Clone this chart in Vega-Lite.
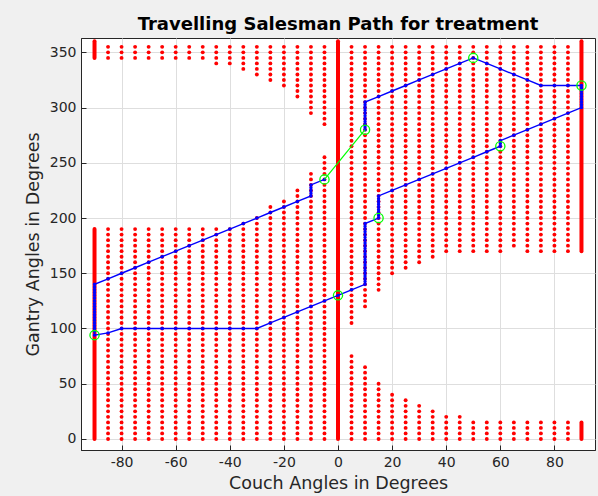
{
"$schema": "https://vega.github.io/schema/vega-lite/v6.json",
"width": 514, "height": 412,
"autosize": {"type": "none"},
"padding": {"left": 81, "top": 38, "right": 3, "bottom": 46},
"background": "#f0f0f0",
"config": {
 "font": "DejaVu Sans",
 "view": {"fill": "#ffffff", "stroke": "#262626", "strokeWidth": 1},
 "axis": {"domainColor": "#262626", "tickColor": "#262626", "labelColor": "#262626", "titleColor": "#262626", "gridColor": "#dedede", "gridWidth": 1, "labelFontSize": 14, "titleFontSize": 17.5, "titleFontWeight": "normal", "labelFont": "DejaVu Sans", "titleFont": "DejaVu Sans", "tickSize": -5, "labelPadding": 10, "labelExpr": "toString(datum.value)"}
},
"title": {"text": "Travelling Salesman Path for treatment", "fontSize": 18, "fontWeight": "bold", "font": "DejaVu Sans", "color": "#000000", "anchor": "middle", "frame": "group", "offset": 7, "baseline": "alphabetic", "dy": 17},
"datasets": {
"grid": [
{"c":-85,"g":0},{"c":-85,"g":5},{"c":-85,"g":10},{"c":-85,"g":15},{"c":-85,"g":20},{"c":-85,"g":25},{"c":-85,"g":30},{"c":-85,"g":35},{"c":-85,"g":40},{"c":-85,"g":45},{"c":-85,"g":50},{"c":-85,"g":55},{"c":-85,"g":60},{"c":-85,"g":65},{"c":-85,"g":70},{"c":-85,"g":75},{"c":-85,"g":80},{"c":-85,"g":85},{"c":-85,"g":90},{"c":-85,"g":95},{"c":-85,"g":100},{"c":-85,"g":105},{"c":-85,"g":110},{"c":-85,"g":115},{"c":-85,"g":120},{"c":-85,"g":125},{"c":-85,"g":130},{"c":-85,"g":135},{"c":-85,"g":140},{"c":-85,"g":145},{"c":-85,"g":150},{"c":-85,"g":155},{"c":-85,"g":160},{"c":-85,"g":165},{"c":-85,"g":170},{"c":-85,"g":175},{"c":-85,"g":180},{"c":-85,"g":185},{"c":-85,"g":190},{"c":-85,"g":345},{"c":-85,"g":350},{"c":-85,"g":355},
{"c":-80,"g":0},{"c":-80,"g":5},{"c":-80,"g":10},{"c":-80,"g":15},{"c":-80,"g":20},{"c":-80,"g":25},{"c":-80,"g":30},{"c":-80,"g":35},{"c":-80,"g":40},{"c":-80,"g":45},{"c":-80,"g":50},{"c":-80,"g":55},{"c":-80,"g":60},{"c":-80,"g":65},{"c":-80,"g":70},{"c":-80,"g":75},{"c":-80,"g":80},{"c":-80,"g":85},{"c":-80,"g":90},{"c":-80,"g":95},{"c":-80,"g":100},{"c":-80,"g":105},{"c":-80,"g":110},{"c":-80,"g":115},{"c":-80,"g":120},{"c":-80,"g":125},{"c":-80,"g":130},{"c":-80,"g":135},{"c":-80,"g":140},{"c":-80,"g":145},{"c":-80,"g":150},{"c":-80,"g":155},{"c":-80,"g":160},{"c":-80,"g":165},{"c":-80,"g":170},{"c":-80,"g":175},{"c":-80,"g":180},{"c":-80,"g":185},{"c":-80,"g":190},{"c":-80,"g":345},{"c":-80,"g":350},{"c":-80,"g":355},
{"c":-75,"g":0},{"c":-75,"g":5},{"c":-75,"g":10},{"c":-75,"g":15},{"c":-75,"g":20},{"c":-75,"g":25},{"c":-75,"g":30},{"c":-75,"g":35},{"c":-75,"g":40},{"c":-75,"g":45},{"c":-75,"g":50},{"c":-75,"g":55},{"c":-75,"g":60},{"c":-75,"g":65},{"c":-75,"g":70},{"c":-75,"g":75},{"c":-75,"g":80},{"c":-75,"g":85},{"c":-75,"g":90},{"c":-75,"g":95},{"c":-75,"g":100},{"c":-75,"g":105},{"c":-75,"g":110},{"c":-75,"g":115},{"c":-75,"g":120},{"c":-75,"g":125},{"c":-75,"g":130},{"c":-75,"g":135},{"c":-75,"g":140},{"c":-75,"g":145},{"c":-75,"g":150},{"c":-75,"g":155},{"c":-75,"g":160},{"c":-75,"g":165},{"c":-75,"g":170},{"c":-75,"g":175},{"c":-75,"g":180},{"c":-75,"g":185},{"c":-75,"g":190},{"c":-75,"g":345},{"c":-75,"g":350},{"c":-75,"g":355},
{"c":-70,"g":0},{"c":-70,"g":5},{"c":-70,"g":10},{"c":-70,"g":15},{"c":-70,"g":20},{"c":-70,"g":25},{"c":-70,"g":30},{"c":-70,"g":35},{"c":-70,"g":40},{"c":-70,"g":45},{"c":-70,"g":50},{"c":-70,"g":55},{"c":-70,"g":60},{"c":-70,"g":65},{"c":-70,"g":70},{"c":-70,"g":75},{"c":-70,"g":80},{"c":-70,"g":85},{"c":-70,"g":90},{"c":-70,"g":95},{"c":-70,"g":100},{"c":-70,"g":105},{"c":-70,"g":110},{"c":-70,"g":115},{"c":-70,"g":120},{"c":-70,"g":125},{"c":-70,"g":130},{"c":-70,"g":135},{"c":-70,"g":140},{"c":-70,"g":145},{"c":-70,"g":150},{"c":-70,"g":155},{"c":-70,"g":160},{"c":-70,"g":165},{"c":-70,"g":170},{"c":-70,"g":175},{"c":-70,"g":180},{"c":-70,"g":185},{"c":-70,"g":190},{"c":-70,"g":345},{"c":-70,"g":350},{"c":-70,"g":355},
{"c":-65,"g":0},{"c":-65,"g":5},{"c":-65,"g":10},{"c":-65,"g":15},{"c":-65,"g":20},{"c":-65,"g":25},{"c":-65,"g":30},{"c":-65,"g":35},{"c":-65,"g":40},{"c":-65,"g":45},{"c":-65,"g":50},{"c":-65,"g":55},{"c":-65,"g":60},{"c":-65,"g":65},{"c":-65,"g":70},{"c":-65,"g":75},{"c":-65,"g":80},{"c":-65,"g":85},{"c":-65,"g":90},{"c":-65,"g":95},{"c":-65,"g":100},{"c":-65,"g":105},{"c":-65,"g":110},{"c":-65,"g":115},{"c":-65,"g":120},{"c":-65,"g":125},{"c":-65,"g":130},{"c":-65,"g":135},{"c":-65,"g":140},{"c":-65,"g":145},{"c":-65,"g":150},{"c":-65,"g":155},{"c":-65,"g":160},{"c":-65,"g":165},{"c":-65,"g":170},{"c":-65,"g":175},{"c":-65,"g":180},{"c":-65,"g":185},{"c":-65,"g":190},{"c":-65,"g":345},{"c":-65,"g":350},{"c":-65,"g":355},
{"c":-60,"g":0},{"c":-60,"g":5},{"c":-60,"g":10},{"c":-60,"g":15},{"c":-60,"g":20},{"c":-60,"g":25},{"c":-60,"g":30},{"c":-60,"g":35},{"c":-60,"g":40},{"c":-60,"g":45},{"c":-60,"g":50},{"c":-60,"g":55},{"c":-60,"g":60},{"c":-60,"g":65},{"c":-60,"g":70},{"c":-60,"g":75},{"c":-60,"g":80},{"c":-60,"g":85},{"c":-60,"g":90},{"c":-60,"g":95},{"c":-60,"g":100},{"c":-60,"g":105},{"c":-60,"g":110},{"c":-60,"g":115},{"c":-60,"g":120},{"c":-60,"g":125},{"c":-60,"g":130},{"c":-60,"g":135},{"c":-60,"g":140},{"c":-60,"g":145},{"c":-60,"g":150},{"c":-60,"g":155},{"c":-60,"g":160},{"c":-60,"g":165},{"c":-60,"g":170},{"c":-60,"g":175},{"c":-60,"g":180},{"c":-60,"g":185},{"c":-60,"g":190},{"c":-60,"g":345},{"c":-60,"g":350},{"c":-60,"g":355},
{"c":-55,"g":0},{"c":-55,"g":5},{"c":-55,"g":10},{"c":-55,"g":15},{"c":-55,"g":20},{"c":-55,"g":25},{"c":-55,"g":30},{"c":-55,"g":35},{"c":-55,"g":40},{"c":-55,"g":45},{"c":-55,"g":50},{"c":-55,"g":55},{"c":-55,"g":60},{"c":-55,"g":65},{"c":-55,"g":70},{"c":-55,"g":75},{"c":-55,"g":80},{"c":-55,"g":85},{"c":-55,"g":90},{"c":-55,"g":95},{"c":-55,"g":100},{"c":-55,"g":105},{"c":-55,"g":110},{"c":-55,"g":115},{"c":-55,"g":120},{"c":-55,"g":125},{"c":-55,"g":130},{"c":-55,"g":135},{"c":-55,"g":140},{"c":-55,"g":145},{"c":-55,"g":150},{"c":-55,"g":155},{"c":-55,"g":160},{"c":-55,"g":165},{"c":-55,"g":170},{"c":-55,"g":175},{"c":-55,"g":180},{"c":-55,"g":185},{"c":-55,"g":190},{"c":-55,"g":345},{"c":-55,"g":350},{"c":-55,"g":355},
{"c":-50,"g":0},{"c":-50,"g":5},{"c":-50,"g":10},{"c":-50,"g":15},{"c":-50,"g":20},{"c":-50,"g":25},{"c":-50,"g":30},{"c":-50,"g":35},{"c":-50,"g":40},{"c":-50,"g":45},{"c":-50,"g":50},{"c":-50,"g":55},{"c":-50,"g":60},{"c":-50,"g":65},{"c":-50,"g":70},{"c":-50,"g":75},{"c":-50,"g":80},{"c":-50,"g":85},{"c":-50,"g":90},{"c":-50,"g":95},{"c":-50,"g":100},{"c":-50,"g":105},{"c":-50,"g":110},{"c":-50,"g":115},{"c":-50,"g":120},{"c":-50,"g":125},{"c":-50,"g":130},{"c":-50,"g":135},{"c":-50,"g":140},{"c":-50,"g":145},{"c":-50,"g":150},{"c":-50,"g":155},{"c":-50,"g":160},{"c":-50,"g":165},{"c":-50,"g":170},{"c":-50,"g":175},{"c":-50,"g":180},{"c":-50,"g":185},{"c":-50,"g":190},{"c":-50,"g":345},{"c":-50,"g":350},{"c":-50,"g":355},
{"c":-45,"g":0},{"c":-45,"g":5},{"c":-45,"g":10},{"c":-45,"g":15},{"c":-45,"g":20},{"c":-45,"g":25},{"c":-45,"g":30},{"c":-45,"g":35},{"c":-45,"g":40},{"c":-45,"g":45},{"c":-45,"g":50},{"c":-45,"g":55},{"c":-45,"g":60},{"c":-45,"g":65},{"c":-45,"g":70},{"c":-45,"g":75},{"c":-45,"g":80},{"c":-45,"g":85},{"c":-45,"g":90},{"c":-45,"g":95},{"c":-45,"g":100},{"c":-45,"g":105},{"c":-45,"g":110},{"c":-45,"g":115},{"c":-45,"g":120},{"c":-45,"g":125},{"c":-45,"g":130},{"c":-45,"g":135},{"c":-45,"g":140},{"c":-45,"g":145},{"c":-45,"g":150},{"c":-45,"g":155},{"c":-45,"g":160},{"c":-45,"g":165},{"c":-45,"g":170},{"c":-45,"g":175},{"c":-45,"g":180},{"c":-45,"g":185},{"c":-45,"g":190},{"c":-45,"g":340},{"c":-45,"g":345},{"c":-45,"g":350},{"c":-45,"g":355},
{"c":-40,"g":0},{"c":-40,"g":5},{"c":-40,"g":10},{"c":-40,"g":15},{"c":-40,"g":20},{"c":-40,"g":25},{"c":-40,"g":30},{"c":-40,"g":35},{"c":-40,"g":40},{"c":-40,"g":45},{"c":-40,"g":50},{"c":-40,"g":55},{"c":-40,"g":60},{"c":-40,"g":65},{"c":-40,"g":70},{"c":-40,"g":75},{"c":-40,"g":80},{"c":-40,"g":85},{"c":-40,"g":90},{"c":-40,"g":95},{"c":-40,"g":100},{"c":-40,"g":105},{"c":-40,"g":110},{"c":-40,"g":115},{"c":-40,"g":120},{"c":-40,"g":125},{"c":-40,"g":130},{"c":-40,"g":135},{"c":-40,"g":140},{"c":-40,"g":145},{"c":-40,"g":150},{"c":-40,"g":155},{"c":-40,"g":160},{"c":-40,"g":165},{"c":-40,"g":170},{"c":-40,"g":175},{"c":-40,"g":180},{"c":-40,"g":185},{"c":-40,"g":190},{"c":-40,"g":340},{"c":-40,"g":345},{"c":-40,"g":350},{"c":-40,"g":355},
{"c":-35,"g":0},{"c":-35,"g":5},{"c":-35,"g":10},{"c":-35,"g":15},{"c":-35,"g":20},{"c":-35,"g":25},{"c":-35,"g":30},{"c":-35,"g":35},{"c":-35,"g":40},{"c":-35,"g":45},{"c":-35,"g":50},{"c":-35,"g":55},{"c":-35,"g":60},{"c":-35,"g":65},{"c":-35,"g":70},{"c":-35,"g":75},{"c":-35,"g":80},{"c":-35,"g":85},{"c":-35,"g":90},{"c":-35,"g":95},{"c":-35,"g":100},{"c":-35,"g":105},{"c":-35,"g":110},{"c":-35,"g":115},{"c":-35,"g":120},{"c":-35,"g":125},{"c":-35,"g":130},{"c":-35,"g":135},{"c":-35,"g":140},{"c":-35,"g":145},{"c":-35,"g":150},{"c":-35,"g":155},{"c":-35,"g":160},{"c":-35,"g":165},{"c":-35,"g":170},{"c":-35,"g":175},{"c":-35,"g":180},{"c":-35,"g":185},{"c":-35,"g":190},{"c":-35,"g":195},{"c":-35,"g":335},{"c":-35,"g":340},{"c":-35,"g":345},{"c":-35,"g":350},{"c":-35,"g":355},
{"c":-30,"g":0},{"c":-30,"g":5},{"c":-30,"g":10},{"c":-30,"g":15},{"c":-30,"g":20},{"c":-30,"g":25},{"c":-30,"g":30},{"c":-30,"g":35},{"c":-30,"g":40},{"c":-30,"g":45},{"c":-30,"g":50},{"c":-30,"g":55},{"c":-30,"g":60},{"c":-30,"g":65},{"c":-30,"g":70},{"c":-30,"g":75},{"c":-30,"g":80},{"c":-30,"g":85},{"c":-30,"g":90},{"c":-30,"g":95},{"c":-30,"g":100},{"c":-30,"g":105},{"c":-30,"g":110},{"c":-30,"g":115},{"c":-30,"g":120},{"c":-30,"g":125},{"c":-30,"g":130},{"c":-30,"g":135},{"c":-30,"g":140},{"c":-30,"g":145},{"c":-30,"g":150},{"c":-30,"g":155},{"c":-30,"g":160},{"c":-30,"g":165},{"c":-30,"g":170},{"c":-30,"g":175},{"c":-30,"g":180},{"c":-30,"g":185},{"c":-30,"g":190},{"c":-30,"g":195},{"c":-30,"g":200},{"c":-30,"g":330},{"c":-30,"g":335},{"c":-30,"g":340},{"c":-30,"g":345},{"c":-30,"g":350},{"c":-30,"g":355},
{"c":-25,"g":0},{"c":-25,"g":5},{"c":-25,"g":10},{"c":-25,"g":15},{"c":-25,"g":20},{"c":-25,"g":25},{"c":-25,"g":30},{"c":-25,"g":35},{"c":-25,"g":40},{"c":-25,"g":45},{"c":-25,"g":50},{"c":-25,"g":55},{"c":-25,"g":60},{"c":-25,"g":65},{"c":-25,"g":70},{"c":-25,"g":75},{"c":-25,"g":80},{"c":-25,"g":85},{"c":-25,"g":90},{"c":-25,"g":95},{"c":-25,"g":100},{"c":-25,"g":105},{"c":-25,"g":110},{"c":-25,"g":115},{"c":-25,"g":120},{"c":-25,"g":125},{"c":-25,"g":130},{"c":-25,"g":135},{"c":-25,"g":140},{"c":-25,"g":145},{"c":-25,"g":150},{"c":-25,"g":155},{"c":-25,"g":160},{"c":-25,"g":165},{"c":-25,"g":170},{"c":-25,"g":175},{"c":-25,"g":180},{"c":-25,"g":185},{"c":-25,"g":190},{"c":-25,"g":195},{"c":-25,"g":200},{"c":-25,"g":205},{"c":-25,"g":210},{"c":-25,"g":325},{"c":-25,"g":330},{"c":-25,"g":335},{"c":-25,"g":340},{"c":-25,"g":345},{"c":-25,"g":350},{"c":-25,"g":355},
{"c":-20,"g":0},{"c":-20,"g":5},{"c":-20,"g":10},{"c":-20,"g":15},{"c":-20,"g":20},{"c":-20,"g":25},{"c":-20,"g":30},{"c":-20,"g":35},{"c":-20,"g":40},{"c":-20,"g":45},{"c":-20,"g":50},{"c":-20,"g":55},{"c":-20,"g":60},{"c":-20,"g":65},{"c":-20,"g":70},{"c":-20,"g":75},{"c":-20,"g":80},{"c":-20,"g":85},{"c":-20,"g":90},{"c":-20,"g":95},{"c":-20,"g":100},{"c":-20,"g":105},{"c":-20,"g":110},{"c":-20,"g":115},{"c":-20,"g":120},{"c":-20,"g":125},{"c":-20,"g":130},{"c":-20,"g":135},{"c":-20,"g":140},{"c":-20,"g":145},{"c":-20,"g":150},{"c":-20,"g":155},{"c":-20,"g":160},{"c":-20,"g":165},{"c":-20,"g":170},{"c":-20,"g":175},{"c":-20,"g":180},{"c":-20,"g":185},{"c":-20,"g":190},{"c":-20,"g":195},{"c":-20,"g":200},{"c":-20,"g":205},{"c":-20,"g":210},{"c":-20,"g":215},{"c":-20,"g":320},{"c":-20,"g":325},{"c":-20,"g":330},{"c":-20,"g":335},{"c":-20,"g":340},{"c":-20,"g":345},{"c":-20,"g":350},{"c":-20,"g":355},
{"c":-15,"g":0},{"c":-15,"g":5},{"c":-15,"g":10},{"c":-15,"g":15},{"c":-15,"g":20},{"c":-15,"g":25},{"c":-15,"g":30},{"c":-15,"g":35},{"c":-15,"g":40},{"c":-15,"g":45},{"c":-15,"g":50},{"c":-15,"g":55},{"c":-15,"g":60},{"c":-15,"g":65},{"c":-15,"g":70},{"c":-15,"g":75},{"c":-15,"g":80},{"c":-15,"g":85},{"c":-15,"g":90},{"c":-15,"g":95},{"c":-15,"g":100},{"c":-15,"g":105},{"c":-15,"g":110},{"c":-15,"g":115},{"c":-15,"g":120},{"c":-15,"g":125},{"c":-15,"g":130},{"c":-15,"g":135},{"c":-15,"g":140},{"c":-15,"g":145},{"c":-15,"g":150},{"c":-15,"g":155},{"c":-15,"g":160},{"c":-15,"g":165},{"c":-15,"g":170},{"c":-15,"g":175},{"c":-15,"g":180},{"c":-15,"g":185},{"c":-15,"g":190},{"c":-15,"g":195},{"c":-15,"g":200},{"c":-15,"g":205},{"c":-15,"g":210},{"c":-15,"g":215},{"c":-15,"g":220},{"c":-15,"g":225},{"c":-15,"g":310},{"c":-15,"g":315},{"c":-15,"g":320},{"c":-15,"g":325},{"c":-15,"g":330},{"c":-15,"g":335},{"c":-15,"g":340},{"c":-15,"g":345},{"c":-15,"g":350},{"c":-15,"g":355},
{"c":-10,"g":0},{"c":-10,"g":5},{"c":-10,"g":10},{"c":-10,"g":15},{"c":-10,"g":20},{"c":-10,"g":25},{"c":-10,"g":30},{"c":-10,"g":35},{"c":-10,"g":40},{"c":-10,"g":45},{"c":-10,"g":50},{"c":-10,"g":55},{"c":-10,"g":60},{"c":-10,"g":65},{"c":-10,"g":70},{"c":-10,"g":75},{"c":-10,"g":80},{"c":-10,"g":85},{"c":-10,"g":90},{"c":-10,"g":95},{"c":-10,"g":100},{"c":-10,"g":105},{"c":-10,"g":110},{"c":-10,"g":115},{"c":-10,"g":120},{"c":-10,"g":125},{"c":-10,"g":130},{"c":-10,"g":135},{"c":-10,"g":140},{"c":-10,"g":145},{"c":-10,"g":150},{"c":-10,"g":155},{"c":-10,"g":160},{"c":-10,"g":165},{"c":-10,"g":170},{"c":-10,"g":175},{"c":-10,"g":180},{"c":-10,"g":185},{"c":-10,"g":190},{"c":-10,"g":195},{"c":-10,"g":200},{"c":-10,"g":205},{"c":-10,"g":210},{"c":-10,"g":215},{"c":-10,"g":220},{"c":-10,"g":225},{"c":-10,"g":230},{"c":-10,"g":235},{"c":-10,"g":240},{"c":-10,"g":295},{"c":-10,"g":300},{"c":-10,"g":305},{"c":-10,"g":310},{"c":-10,"g":315},{"c":-10,"g":320},{"c":-10,"g":325},{"c":-10,"g":330},{"c":-10,"g":335},{"c":-10,"g":340},{"c":-10,"g":345},{"c":-10,"g":350},{"c":-10,"g":355},
{"c":-5,"g":0},{"c":-5,"g":5},{"c":-5,"g":10},{"c":-5,"g":15},{"c":-5,"g":20},{"c":-5,"g":25},{"c":-5,"g":30},{"c":-5,"g":35},{"c":-5,"g":40},{"c":-5,"g":45},{"c":-5,"g":50},{"c":-5,"g":55},{"c":-5,"g":60},{"c":-5,"g":65},{"c":-5,"g":70},{"c":-5,"g":75},{"c":-5,"g":80},{"c":-5,"g":85},{"c":-5,"g":90},{"c":-5,"g":95},{"c":-5,"g":100},{"c":-5,"g":105},{"c":-5,"g":110},{"c":-5,"g":115},{"c":-5,"g":120},{"c":-5,"g":125},{"c":-5,"g":130},{"c":-5,"g":135},{"c":-5,"g":140},{"c":-5,"g":145},{"c":-5,"g":150},{"c":-5,"g":155},{"c":-5,"g":160},{"c":-5,"g":165},{"c":-5,"g":170},{"c":-5,"g":175},{"c":-5,"g":180},{"c":-5,"g":185},{"c":-5,"g":190},{"c":-5,"g":195},{"c":-5,"g":200},{"c":-5,"g":205},{"c":-5,"g":210},{"c":-5,"g":215},{"c":-5,"g":220},{"c":-5,"g":225},{"c":-5,"g":230},{"c":-5,"g":235},{"c":-5,"g":240},{"c":-5,"g":245},{"c":-5,"g":250},{"c":-5,"g":255},{"c":-5,"g":285},{"c":-5,"g":290},{"c":-5,"g":295},{"c":-5,"g":300},{"c":-5,"g":305},{"c":-5,"g":310},{"c":-5,"g":315},{"c":-5,"g":320},{"c":-5,"g":325},{"c":-5,"g":330},{"c":-5,"g":335},{"c":-5,"g":340},{"c":-5,"g":345},{"c":-5,"g":350},{"c":-5,"g":355},
{"c":5,"g":0},{"c":5,"g":5},{"c":5,"g":10},{"c":5,"g":15},{"c":5,"g":20},{"c":5,"g":25},{"c":5,"g":30},{"c":5,"g":35},{"c":5,"g":40},{"c":5,"g":45},{"c":5,"g":50},{"c":5,"g":55},{"c":5,"g":60},{"c":5,"g":65},{"c":5,"g":70},{"c":5,"g":75},{"c":5,"g":105},{"c":5,"g":110},{"c":5,"g":115},{"c":5,"g":120},{"c":5,"g":125},{"c":5,"g":130},{"c":5,"g":135},{"c":5,"g":140},{"c":5,"g":145},{"c":5,"g":150},{"c":5,"g":155},{"c":5,"g":160},{"c":5,"g":165},{"c":5,"g":170},{"c":5,"g":175},{"c":5,"g":180},{"c":5,"g":185},{"c":5,"g":190},{"c":5,"g":195},{"c":5,"g":200},{"c":5,"g":205},{"c":5,"g":210},{"c":5,"g":215},{"c":5,"g":220},{"c":5,"g":225},{"c":5,"g":230},{"c":5,"g":235},{"c":5,"g":240},{"c":5,"g":245},{"c":5,"g":250},{"c":5,"g":255},{"c":5,"g":260},{"c":5,"g":265},{"c":5,"g":270},{"c":5,"g":275},{"c":5,"g":280},{"c":5,"g":285},{"c":5,"g":290},{"c":5,"g":295},{"c":5,"g":300},{"c":5,"g":305},{"c":5,"g":310},{"c":5,"g":315},{"c":5,"g":320},{"c":5,"g":325},{"c":5,"g":330},{"c":5,"g":335},{"c":5,"g":340},{"c":5,"g":345},{"c":5,"g":350},{"c":5,"g":355},
{"c":10,"g":0},{"c":10,"g":5},{"c":10,"g":10},{"c":10,"g":15},{"c":10,"g":20},{"c":10,"g":25},{"c":10,"g":30},{"c":10,"g":35},{"c":10,"g":40},{"c":10,"g":45},{"c":10,"g":50},{"c":10,"g":55},{"c":10,"g":60},{"c":10,"g":65},{"c":10,"g":120},{"c":10,"g":125},{"c":10,"g":130},{"c":10,"g":135},{"c":10,"g":140},{"c":10,"g":145},{"c":10,"g":150},{"c":10,"g":155},{"c":10,"g":160},{"c":10,"g":165},{"c":10,"g":170},{"c":10,"g":175},{"c":10,"g":180},{"c":10,"g":185},{"c":10,"g":190},{"c":10,"g":195},{"c":10,"g":200},{"c":10,"g":205},{"c":10,"g":210},{"c":10,"g":215},{"c":10,"g":220},{"c":10,"g":225},{"c":10,"g":230},{"c":10,"g":235},{"c":10,"g":240},{"c":10,"g":245},{"c":10,"g":250},{"c":10,"g":255},{"c":10,"g":260},{"c":10,"g":265},{"c":10,"g":270},{"c":10,"g":275},{"c":10,"g":280},{"c":10,"g":285},{"c":10,"g":290},{"c":10,"g":295},{"c":10,"g":300},{"c":10,"g":305},{"c":10,"g":310},{"c":10,"g":315},{"c":10,"g":320},{"c":10,"g":325},{"c":10,"g":330},{"c":10,"g":335},{"c":10,"g":340},{"c":10,"g":345},{"c":10,"g":350},{"c":10,"g":355},
{"c":15,"g":0},{"c":15,"g":5},{"c":15,"g":10},{"c":15,"g":15},{"c":15,"g":20},{"c":15,"g":25},{"c":15,"g":30},{"c":15,"g":35},{"c":15,"g":40},{"c":15,"g":45},{"c":15,"g":50},{"c":15,"g":135},{"c":15,"g":140},{"c":15,"g":145},{"c":15,"g":150},{"c":15,"g":155},{"c":15,"g":160},{"c":15,"g":165},{"c":15,"g":170},{"c":15,"g":175},{"c":15,"g":180},{"c":15,"g":185},{"c":15,"g":190},{"c":15,"g":195},{"c":15,"g":200},{"c":15,"g":205},{"c":15,"g":210},{"c":15,"g":215},{"c":15,"g":220},{"c":15,"g":225},{"c":15,"g":230},{"c":15,"g":235},{"c":15,"g":240},{"c":15,"g":245},{"c":15,"g":250},{"c":15,"g":255},{"c":15,"g":260},{"c":15,"g":265},{"c":15,"g":270},{"c":15,"g":275},{"c":15,"g":280},{"c":15,"g":285},{"c":15,"g":290},{"c":15,"g":295},{"c":15,"g":300},{"c":15,"g":305},{"c":15,"g":310},{"c":15,"g":315},{"c":15,"g":320},{"c":15,"g":325},{"c":15,"g":330},{"c":15,"g":335},{"c":15,"g":340},{"c":15,"g":345},{"c":15,"g":350},{"c":15,"g":355},
{"c":20,"g":0},{"c":20,"g":5},{"c":20,"g":10},{"c":20,"g":15},{"c":20,"g":20},{"c":20,"g":25},{"c":20,"g":30},{"c":20,"g":35},{"c":20,"g":40},{"c":20,"g":150},{"c":20,"g":155},{"c":20,"g":160},{"c":20,"g":165},{"c":20,"g":170},{"c":20,"g":175},{"c":20,"g":180},{"c":20,"g":185},{"c":20,"g":190},{"c":20,"g":195},{"c":20,"g":200},{"c":20,"g":205},{"c":20,"g":210},{"c":20,"g":215},{"c":20,"g":220},{"c":20,"g":225},{"c":20,"g":230},{"c":20,"g":235},{"c":20,"g":240},{"c":20,"g":245},{"c":20,"g":250},{"c":20,"g":255},{"c":20,"g":260},{"c":20,"g":265},{"c":20,"g":270},{"c":20,"g":275},{"c":20,"g":280},{"c":20,"g":285},{"c":20,"g":290},{"c":20,"g":295},{"c":20,"g":300},{"c":20,"g":305},{"c":20,"g":310},{"c":20,"g":315},{"c":20,"g":320},{"c":20,"g":325},{"c":20,"g":330},{"c":20,"g":335},{"c":20,"g":340},{"c":20,"g":345},{"c":20,"g":350},{"c":20,"g":355},
{"c":25,"g":0},{"c":25,"g":5},{"c":25,"g":10},{"c":25,"g":15},{"c":25,"g":20},{"c":25,"g":25},{"c":25,"g":30},{"c":25,"g":35},{"c":25,"g":155},{"c":25,"g":160},{"c":25,"g":165},{"c":25,"g":170},{"c":25,"g":175},{"c":25,"g":180},{"c":25,"g":185},{"c":25,"g":190},{"c":25,"g":195},{"c":25,"g":200},{"c":25,"g":205},{"c":25,"g":210},{"c":25,"g":215},{"c":25,"g":220},{"c":25,"g":225},{"c":25,"g":230},{"c":25,"g":235},{"c":25,"g":240},{"c":25,"g":245},{"c":25,"g":250},{"c":25,"g":255},{"c":25,"g":260},{"c":25,"g":265},{"c":25,"g":270},{"c":25,"g":275},{"c":25,"g":280},{"c":25,"g":285},{"c":25,"g":290},{"c":25,"g":295},{"c":25,"g":300},{"c":25,"g":305},{"c":25,"g":310},{"c":25,"g":315},{"c":25,"g":320},{"c":25,"g":325},{"c":25,"g":330},{"c":25,"g":335},{"c":25,"g":340},{"c":25,"g":345},{"c":25,"g":350},{"c":25,"g":355},
{"c":30,"g":0},{"c":30,"g":5},{"c":30,"g":10},{"c":30,"g":15},{"c":30,"g":20},{"c":30,"g":25},{"c":30,"g":30},{"c":30,"g":160},{"c":30,"g":165},{"c":30,"g":170},{"c":30,"g":175},{"c":30,"g":180},{"c":30,"g":185},{"c":30,"g":190},{"c":30,"g":195},{"c":30,"g":200},{"c":30,"g":205},{"c":30,"g":210},{"c":30,"g":215},{"c":30,"g":220},{"c":30,"g":225},{"c":30,"g":230},{"c":30,"g":235},{"c":30,"g":240},{"c":30,"g":245},{"c":30,"g":250},{"c":30,"g":255},{"c":30,"g":260},{"c":30,"g":265},{"c":30,"g":270},{"c":30,"g":275},{"c":30,"g":280},{"c":30,"g":285},{"c":30,"g":290},{"c":30,"g":295},{"c":30,"g":300},{"c":30,"g":305},{"c":30,"g":310},{"c":30,"g":315},{"c":30,"g":320},{"c":30,"g":325},{"c":30,"g":330},{"c":30,"g":335},{"c":30,"g":340},{"c":30,"g":345},{"c":30,"g":350},{"c":30,"g":355},
{"c":35,"g":0},{"c":35,"g":5},{"c":35,"g":10},{"c":35,"g":15},{"c":35,"g":20},{"c":35,"g":25},{"c":35,"g":165},{"c":35,"g":170},{"c":35,"g":175},{"c":35,"g":180},{"c":35,"g":185},{"c":35,"g":190},{"c":35,"g":195},{"c":35,"g":200},{"c":35,"g":205},{"c":35,"g":210},{"c":35,"g":215},{"c":35,"g":220},{"c":35,"g":225},{"c":35,"g":230},{"c":35,"g":235},{"c":35,"g":240},{"c":35,"g":245},{"c":35,"g":250},{"c":35,"g":255},{"c":35,"g":260},{"c":35,"g":265},{"c":35,"g":270},{"c":35,"g":275},{"c":35,"g":280},{"c":35,"g":285},{"c":35,"g":290},{"c":35,"g":295},{"c":35,"g":300},{"c":35,"g":305},{"c":35,"g":310},{"c":35,"g":315},{"c":35,"g":320},{"c":35,"g":325},{"c":35,"g":330},{"c":35,"g":335},{"c":35,"g":340},{"c":35,"g":345},{"c":35,"g":350},{"c":35,"g":355},
{"c":40,"g":0},{"c":40,"g":5},{"c":40,"g":10},{"c":40,"g":15},{"c":40,"g":20},{"c":40,"g":170},{"c":40,"g":175},{"c":40,"g":180},{"c":40,"g":185},{"c":40,"g":190},{"c":40,"g":195},{"c":40,"g":200},{"c":40,"g":205},{"c":40,"g":210},{"c":40,"g":215},{"c":40,"g":220},{"c":40,"g":225},{"c":40,"g":230},{"c":40,"g":235},{"c":40,"g":240},{"c":40,"g":245},{"c":40,"g":250},{"c":40,"g":255},{"c":40,"g":260},{"c":40,"g":265},{"c":40,"g":270},{"c":40,"g":275},{"c":40,"g":280},{"c":40,"g":285},{"c":40,"g":290},{"c":40,"g":295},{"c":40,"g":300},{"c":40,"g":305},{"c":40,"g":310},{"c":40,"g":315},{"c":40,"g":320},{"c":40,"g":325},{"c":40,"g":330},{"c":40,"g":335},{"c":40,"g":340},{"c":40,"g":345},{"c":40,"g":350},{"c":40,"g":355},
{"c":45,"g":0},{"c":45,"g":5},{"c":45,"g":10},{"c":45,"g":15},{"c":45,"g":20},{"c":45,"g":170},{"c":45,"g":175},{"c":45,"g":180},{"c":45,"g":185},{"c":45,"g":190},{"c":45,"g":195},{"c":45,"g":200},{"c":45,"g":205},{"c":45,"g":210},{"c":45,"g":215},{"c":45,"g":220},{"c":45,"g":225},{"c":45,"g":230},{"c":45,"g":235},{"c":45,"g":240},{"c":45,"g":245},{"c":45,"g":250},{"c":45,"g":255},{"c":45,"g":260},{"c":45,"g":265},{"c":45,"g":270},{"c":45,"g":275},{"c":45,"g":280},{"c":45,"g":285},{"c":45,"g":290},{"c":45,"g":295},{"c":45,"g":300},{"c":45,"g":305},{"c":45,"g":310},{"c":45,"g":315},{"c":45,"g":320},{"c":45,"g":325},{"c":45,"g":330},{"c":45,"g":335},{"c":45,"g":340},{"c":45,"g":345},{"c":45,"g":350},{"c":45,"g":355},
{"c":50,"g":0},{"c":50,"g":5},{"c":50,"g":10},{"c":50,"g":15},{"c":50,"g":170},{"c":50,"g":175},{"c":50,"g":180},{"c":50,"g":185},{"c":50,"g":190},{"c":50,"g":195},{"c":50,"g":200},{"c":50,"g":205},{"c":50,"g":210},{"c":50,"g":215},{"c":50,"g":220},{"c":50,"g":225},{"c":50,"g":230},{"c":50,"g":235},{"c":50,"g":240},{"c":50,"g":245},{"c":50,"g":250},{"c":50,"g":255},{"c":50,"g":260},{"c":50,"g":265},{"c":50,"g":270},{"c":50,"g":275},{"c":50,"g":280},{"c":50,"g":285},{"c":50,"g":290},{"c":50,"g":295},{"c":50,"g":300},{"c":50,"g":305},{"c":50,"g":310},{"c":50,"g":315},{"c":50,"g":320},{"c":50,"g":325},{"c":50,"g":330},{"c":50,"g":335},{"c":50,"g":340},{"c":50,"g":345},{"c":50,"g":350},{"c":50,"g":355},
{"c":55,"g":0},{"c":55,"g":5},{"c":55,"g":10},{"c":55,"g":15},{"c":55,"g":170},{"c":55,"g":175},{"c":55,"g":180},{"c":55,"g":185},{"c":55,"g":190},{"c":55,"g":195},{"c":55,"g":200},{"c":55,"g":205},{"c":55,"g":210},{"c":55,"g":215},{"c":55,"g":220},{"c":55,"g":225},{"c":55,"g":230},{"c":55,"g":235},{"c":55,"g":240},{"c":55,"g":245},{"c":55,"g":250},{"c":55,"g":255},{"c":55,"g":260},{"c":55,"g":265},{"c":55,"g":270},{"c":55,"g":275},{"c":55,"g":280},{"c":55,"g":285},{"c":55,"g":290},{"c":55,"g":295},{"c":55,"g":300},{"c":55,"g":305},{"c":55,"g":310},{"c":55,"g":315},{"c":55,"g":320},{"c":55,"g":325},{"c":55,"g":330},{"c":55,"g":335},{"c":55,"g":340},{"c":55,"g":345},{"c":55,"g":350},{"c":55,"g":355},
{"c":60,"g":0},{"c":60,"g":5},{"c":60,"g":10},{"c":60,"g":15},{"c":60,"g":170},{"c":60,"g":175},{"c":60,"g":180},{"c":60,"g":185},{"c":60,"g":190},{"c":60,"g":195},{"c":60,"g":200},{"c":60,"g":205},{"c":60,"g":210},{"c":60,"g":215},{"c":60,"g":220},{"c":60,"g":225},{"c":60,"g":230},{"c":60,"g":235},{"c":60,"g":240},{"c":60,"g":245},{"c":60,"g":250},{"c":60,"g":255},{"c":60,"g":260},{"c":60,"g":265},{"c":60,"g":270},{"c":60,"g":275},{"c":60,"g":280},{"c":60,"g":285},{"c":60,"g":290},{"c":60,"g":295},{"c":60,"g":300},{"c":60,"g":305},{"c":60,"g":310},{"c":60,"g":315},{"c":60,"g":320},{"c":60,"g":325},{"c":60,"g":330},{"c":60,"g":335},{"c":60,"g":340},{"c":60,"g":345},{"c":60,"g":350},{"c":60,"g":355},
{"c":65,"g":0},{"c":65,"g":5},{"c":65,"g":10},{"c":65,"g":15},{"c":65,"g":175},{"c":65,"g":180},{"c":65,"g":185},{"c":65,"g":190},{"c":65,"g":195},{"c":65,"g":200},{"c":65,"g":205},{"c":65,"g":210},{"c":65,"g":215},{"c":65,"g":220},{"c":65,"g":225},{"c":65,"g":230},{"c":65,"g":235},{"c":65,"g":240},{"c":65,"g":245},{"c":65,"g":250},{"c":65,"g":255},{"c":65,"g":260},{"c":65,"g":265},{"c":65,"g":270},{"c":65,"g":275},{"c":65,"g":280},{"c":65,"g":285},{"c":65,"g":290},{"c":65,"g":295},{"c":65,"g":300},{"c":65,"g":305},{"c":65,"g":310},{"c":65,"g":315},{"c":65,"g":320},{"c":65,"g":325},{"c":65,"g":330},{"c":65,"g":335},{"c":65,"g":340},{"c":65,"g":345},{"c":65,"g":350},{"c":65,"g":355},
{"c":70,"g":0},{"c":70,"g":5},{"c":70,"g":10},{"c":70,"g":15},{"c":70,"g":170},{"c":70,"g":175},{"c":70,"g":180},{"c":70,"g":185},{"c":70,"g":190},{"c":70,"g":195},{"c":70,"g":200},{"c":70,"g":205},{"c":70,"g":210},{"c":70,"g":215},{"c":70,"g":220},{"c":70,"g":225},{"c":70,"g":230},{"c":70,"g":235},{"c":70,"g":240},{"c":70,"g":245},{"c":70,"g":250},{"c":70,"g":255},{"c":70,"g":260},{"c":70,"g":265},{"c":70,"g":270},{"c":70,"g":275},{"c":70,"g":280},{"c":70,"g":285},{"c":70,"g":290},{"c":70,"g":295},{"c":70,"g":300},{"c":70,"g":305},{"c":70,"g":310},{"c":70,"g":315},{"c":70,"g":320},{"c":70,"g":325},{"c":70,"g":330},{"c":70,"g":335},{"c":70,"g":340},{"c":70,"g":345},{"c":70,"g":350},{"c":70,"g":355},
{"c":75,"g":0},{"c":75,"g":5},{"c":75,"g":10},{"c":75,"g":15},{"c":75,"g":170},{"c":75,"g":175},{"c":75,"g":180},{"c":75,"g":185},{"c":75,"g":190},{"c":75,"g":195},{"c":75,"g":200},{"c":75,"g":205},{"c":75,"g":210},{"c":75,"g":215},{"c":75,"g":220},{"c":75,"g":225},{"c":75,"g":230},{"c":75,"g":235},{"c":75,"g":240},{"c":75,"g":245},{"c":75,"g":250},{"c":75,"g":255},{"c":75,"g":260},{"c":75,"g":265},{"c":75,"g":270},{"c":75,"g":275},{"c":75,"g":280},{"c":75,"g":285},{"c":75,"g":290},{"c":75,"g":295},{"c":75,"g":300},{"c":75,"g":305},{"c":75,"g":310},{"c":75,"g":315},{"c":75,"g":320},{"c":75,"g":325},{"c":75,"g":330},{"c":75,"g":335},{"c":75,"g":340},{"c":75,"g":345},{"c":75,"g":350},{"c":75,"g":355},
{"c":80,"g":0},{"c":80,"g":5},{"c":80,"g":10},{"c":80,"g":15},{"c":80,"g":170},{"c":80,"g":175},{"c":80,"g":180},{"c":80,"g":185},{"c":80,"g":190},{"c":80,"g":195},{"c":80,"g":200},{"c":80,"g":205},{"c":80,"g":210},{"c":80,"g":215},{"c":80,"g":220},{"c":80,"g":225},{"c":80,"g":230},{"c":80,"g":235},{"c":80,"g":240},{"c":80,"g":245},{"c":80,"g":250},{"c":80,"g":255},{"c":80,"g":260},{"c":80,"g":265},{"c":80,"g":270},{"c":80,"g":275},{"c":80,"g":280},{"c":80,"g":285},{"c":80,"g":290},{"c":80,"g":295},{"c":80,"g":300},{"c":80,"g":305},{"c":80,"g":310},{"c":80,"g":315},{"c":80,"g":320},{"c":80,"g":325},{"c":80,"g":330},{"c":80,"g":335},{"c":80,"g":340},{"c":80,"g":345},{"c":80,"g":350},{"c":80,"g":355},
{"c":85,"g":0},{"c":85,"g":5},{"c":85,"g":10},{"c":85,"g":15},{"c":85,"g":170},{"c":85,"g":175},{"c":85,"g":180},{"c":85,"g":185},{"c":85,"g":190},{"c":85,"g":195},{"c":85,"g":200},{"c":85,"g":205},{"c":85,"g":210},{"c":85,"g":215},{"c":85,"g":220},{"c":85,"g":225},{"c":85,"g":230},{"c":85,"g":235},{"c":85,"g":240},{"c":85,"g":245},{"c":85,"g":250},{"c":85,"g":255},{"c":85,"g":260},{"c":85,"g":265},{"c":85,"g":270},{"c":85,"g":275},{"c":85,"g":280},{"c":85,"g":285},{"c":85,"g":290},{"c":85,"g":295},{"c":85,"g":300},{"c":85,"g":305},{"c":85,"g":310},{"c":85,"g":315},{"c":85,"g":320},{"c":85,"g":325},{"c":85,"g":330},{"c":85,"g":335},{"c":85,"g":340},{"c":85,"g":345},{"c":85,"g":350},{"c":85,"g":355}
],
"dense": [
{"c":-90,"g":0,"g2":190},{"c":-90,"g":345,"g2":360},{"c":0,"g":0,"g2":360},{"c":90,"g":0,"g2":15},{"c":90,"g":170,"g2":360}
],
"path": [
{"o":1,"c":-5,"g":235},{"o":2,"c":-10,"g":230},{"o":3,"c":-10,"g":227.5},{"o":4,"c":-10,"g":225},{"o":5,"c":-10,"g":222.5},{"o":6,"c":-10,"g":220},
{"o":7,"c":-15,"g":215},{"o":8,"c":-20,"g":210},{"o":9,"c":-25,"g":205},{"o":10,"c":-30,"g":200},{"o":11,"c":-35,"g":195},{"o":12,"c":-40,"g":190},{"o":13,"c":-45,"g":185},{"o":14,"c":-50,"g":180},{"o":15,"c":-55,"g":175},{"o":16,"c":-60,"g":170},{"o":17,"c":-65,"g":165},{"o":18,"c":-70,"g":160},{"o":19,"c":-75,"g":155},{"o":20,"c":-80,"g":150},{"o":21,"c":-85,"g":145},{"o":22,"c":-90,"g":140},
{"o":23,"c":-90,"g":137.5},{"o":24,"c":-90,"g":135},{"o":25,"c":-90,"g":132.5},{"o":26,"c":-90,"g":130},{"o":27,"c":-90,"g":127.5},{"o":28,"c":-90,"g":125},{"o":29,"c":-90,"g":122.5},{"o":30,"c":-90,"g":120},{"o":31,"c":-90,"g":117.5},{"o":32,"c":-90,"g":115},{"o":33,"c":-90,"g":112.5},{"o":34,"c":-90,"g":110},{"o":35,"c":-90,"g":107.5},{"o":36,"c":-90,"g":105},{"o":37,"c":-90,"g":102.5},{"o":38,"c":-90,"g":100},{"o":39,"c":-90,"g":97.5},{"o":40,"c":-90,"g":94},
{"o":41,"c":-85,"g":96},{"o":42,"c":-80,"g":100},{"o":43,"c":-75,"g":100},{"o":44,"c":-70,"g":100},{"o":45,"c":-65,"g":100},{"o":46,"c":-60,"g":100},{"o":47,"c":-55,"g":100},{"o":48,"c":-50,"g":100},{"o":49,"c":-45,"g":100},{"o":50,"c":-40,"g":100},{"o":51,"c":-35,"g":100},{"o":52,"c":-30,"g":100},
{"o":53,"c":-25,"g":105},{"o":54,"c":-20,"g":110},{"o":55,"c":-15,"g":115},{"o":56,"c":-10,"g":120},{"o":57,"c":-5,"g":125},{"o":58,"c":0,"g":130},{"o":59,"c":5,"g":135},{"o":60,"c":10,"g":140},
{"o":61,"c":10,"g":142.5},{"o":62,"c":10,"g":145},{"o":63,"c":10,"g":147.5},{"o":64,"c":10,"g":150},{"o":65,"c":10,"g":152.5},{"o":66,"c":10,"g":155},{"o":67,"c":10,"g":157.5},{"o":68,"c":10,"g":160},{"o":69,"c":10,"g":162.5},{"o":70,"c":10,"g":165},{"o":71,"c":10,"g":167.5},{"o":72,"c":10,"g":170},{"o":73,"c":10,"g":172.5},{"o":74,"c":10,"g":175},{"o":75,"c":10,"g":177.5},{"o":76,"c":10,"g":180},{"o":77,"c":10,"g":182.5},{"o":78,"c":10,"g":185},{"o":79,"c":10,"g":187.5},{"o":80,"c":10,"g":190},{"o":81,"c":10,"g":192.5},{"o":82,"c":10,"g":195},
{"o":83,"c":15,"g":200},{"o":84,"c":15,"g":202.5},{"o":85,"c":15,"g":205},{"o":86,"c":15,"g":207.5},{"o":87,"c":15,"g":210},{"o":88,"c":15,"g":212.5},{"o":89,"c":15,"g":215},{"o":90,"c":15,"g":217.5},{"o":91,"c":15,"g":220},
{"o":92,"c":20,"g":225},{"o":93,"c":25,"g":230},{"o":94,"c":30,"g":235},{"o":95,"c":35,"g":240},{"o":96,"c":40,"g":245},{"o":97,"c":45,"g":250},{"o":98,"c":50,"g":255},{"o":99,"c":55,"g":260},{"o":100,"c":60,"g":265},{"o":101,"c":60,"g":267.5},{"o":102,"c":60,"g":270},
{"o":103,"c":65,"g":275},{"o":104,"c":70,"g":280},{"o":105,"c":75,"g":285},{"o":106,"c":80,"g":290},{"o":107,"c":85,"g":295},{"o":108,"c":90,"g":300},
{"o":109,"c":90,"g":302.5},{"o":110,"c":90,"g":305},{"o":111,"c":90,"g":307.5},{"o":112,"c":90,"g":310},{"o":113,"c":90,"g":312.5},{"o":114,"c":90,"g":315},{"o":115,"c":90,"g":317.5},{"o":116,"c":90,"g":320},
{"o":117,"c":85,"g":320},{"o":118,"c":80,"g":320},{"o":119,"c":75,"g":320},{"o":120,"c":70,"g":325},{"o":121,"c":65,"g":330},{"o":122,"c":60,"g":335},{"o":123,"c":55,"g":340},{"o":124,"c":50,"g":345},
{"o":125,"c":45,"g":340},{"o":126,"c":40,"g":335},{"o":127,"c":35,"g":330},{"o":128,"c":30,"g":325},{"o":129,"c":25,"g":320},{"o":130,"c":20,"g":315},{"o":131,"c":15,"g":310},{"o":132,"c":10,"g":305},
{"o":133,"c":10,"g":302.5},{"o":134,"c":10,"g":300},{"o":135,"c":10,"g":297.5},{"o":136,"c":10,"g":295},{"o":137,"c":10,"g":292.5},{"o":138,"c":10,"g":290},{"o":139,"c":10,"g":287.5},{"o":140,"c":10,"g":285},{"o":141,"c":10,"g":282.5},{"o":142,"c":10,"g":280}
],
"link": [{"o":1,"c":-5,"g":235},{"o":2,"c":10,"g":280}],
"targets": [
{"c":-90,"g":94},{"c":0,"g":130},{"c":-5,"g":235},{"c":10,"g":280},{"c":15,"g":200},{"c":60,"g":265},{"c":50,"g":345},{"c":90,"g":320}
]
},
"encoding": {
 "x": {"field": "c", "type": "quantitative", "scale": {"domain": [-95, 95], "nice": false, "zero": false}, "axis": {"title": "Couch Angles in Degrees", "values": [-80,-60,-40,-20,0,20,40,60,80], "titlePadding": 5}},
 "y": {"field": "g", "type": "quantitative", "scale": {"domain": [-10, 363], "nice": false, "zero": false}, "axis": {"title": "Gantry Angles in Degrees", "values": [0,50,100,150,200,250,300,350], "titlePadding": 7}}
},
"layer": [
 {"data": {"name": "grid"}, "mark": {"type": "circle", "size": 15, "color": "#ff0000", "opacity": 1}},
 {"data": {"name": "dense"}, "mark": {"type": "rule", "color": "#ff0000", "strokeWidth": 4, "strokeCap": "round"}, "encoding": {"y2": {"field": "g2"}}},
 {"data": {"name": "path"}, "mark": {"type": "line", "color": "#0000ff", "strokeWidth": 1.4}, "encoding": {"order": {"field": "o", "type": "quantitative"}}},
 {"data": {"name": "path"}, "mark": {"type": "circle", "size": 12, "color": "#0000ff", "opacity": 1}},
 {"data": {"name": "link"}, "mark": {"type": "line", "color": "#00ff00", "strokeWidth": 1.2}, "encoding": {"order": {"field": "o", "type": "quantitative"}}},
 {"data": {"name": "targets"}, "mark": {"type": "point", "shape": "circle", "filled": false, "size": 85, "color": "#00ff00", "strokeWidth": 1.3, "opacity": 1}}
]
}
